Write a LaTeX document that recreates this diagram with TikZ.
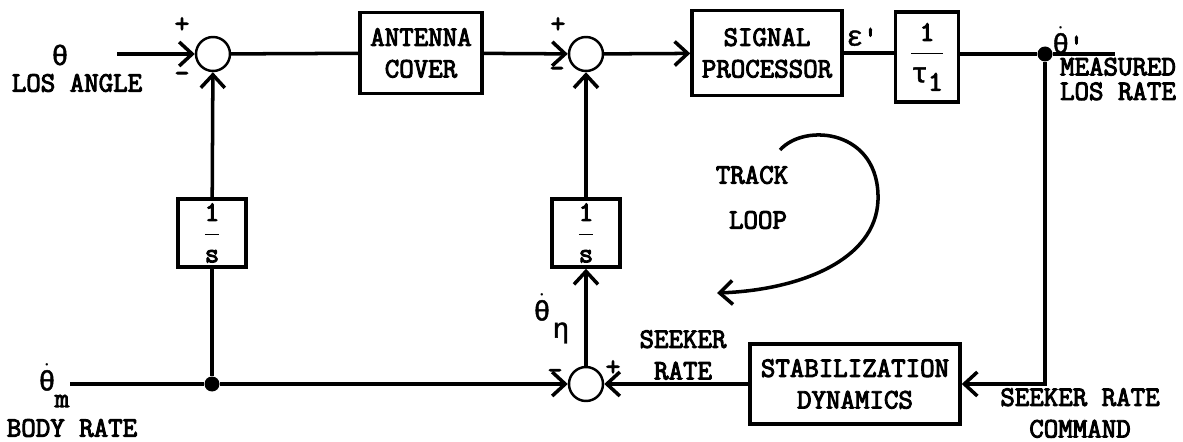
\documentclass[tikz,border=0pt]{standalone}
\usepackage{fontspec}
\setmonofont{Latin Modern Mono}[FakeBold=3.5]
\newfontfamily\grk{Liberation Mono}[FakeBold=1.5]
\usepackage{tikz}
\usetikzlibrary{positioning, arrows.meta}
\newcommand{\thetadot}{$\dot{\hbox{\grk θ}}$}

\begin{document}
\begin{tikzpicture}[
  x=0.02cm, y=-0.02cm,
  font=\fontsize{16}{18}\selectfont\ttfamily,
  block/.style={rectangle, draw, line width=2pt, align=center, inner sep=0pt},
  sumnode/.style={circle, draw, line width=1.4pt, minimum size=0.68cm, inner sep=0pt},
  junct/.style={circle, fill, minimum size=0.3cm, inner sep=0pt},
  sig/.style={line width=2pt},
  arrow/.style={sig, -{Straight Barb[length=2.6mm, width=4.8mm, line width=2pt]}},
  lbl/.style={align=center, inner sep=0pt}
]
\useasboundingbox (0,0) rectangle (1183,442);
% forward path
\coordinate (thetain) at (117,54);
\node[sumnode] (sum1) at (213,54) {};
\node[block, minimum width=2.44cm, minimum height=1.62cm] (antenna) at (421,53) {ANTENNA\\COVER};
\node[sumnode] (sum2) at (586,54) {};
\node[block, minimum width=3.0cm, minimum height=1.7cm] (sigproc) at (767,53) {SIGNAL\\PROCESSOR};
\node[block, minimum width=1.26cm, minimum height=1.8cm] (gain) at (927,57) {$\displaystyle\frac{\hbox{1}}{\hbox{\grk τ\raisebox{-0.3em}{\ttfamily 1}}}$};
\node[junct] (jtop) at (1045,54) {};
\coordinate (outend) at (1115,54);
% integrators and lower path
\node[block, minimum size=1.36cm] (int1) at (212,233) {$\displaystyle\frac{\hbox{1}}{\hbox{s}}$};
\node[block, minimum size=1.36cm] (int2) at (586,233) {$\displaystyle\frac{\hbox{1}}{\hbox{s}}$};
\coordinate (bodyin) at (70,384);
\node[junct] (jbot) at (212,384) {};
\node[sumnode] (sum3) at (586,384) {};
\node[block, minimum width=4.2cm, minimum height=1.6cm] (stab) at (855,384) {STABILIZATION\\DYNAMICS};
\coordinate (corner) at (1045,384);

% labels
\node[lbl] (thetalbl) at (60,55) {\grk θ};
\node[lbl] (losangle) at (77,83) {LOS ANGLE};
\node[lbl] (p1) at (182,25) {+};
\node[lbl] (m1) at (182,77) {-};
\node[lbl] (p2) at (558,25) {+};
\node[lbl] (m2) at (557,72) {-};
\node[lbl] (m3) at (555,374) {-};
\node[lbl] (p3) at (613,368) {+};
\node[lbl] (eps) at (862,37) {{\grk ε}'};
\node[lbl] (rateout) at (1068,40) {\thetadot'};
\node[lbl] (measured) at (1118,79) {MEASURED\\[-4pt]LOS RATE};
\node[lbl] (thetaeta) at (542,307) {\thetadot};
\node[lbl] (etasub) at (561,333) {\grk η};
\node[lbl] (seekrate) at (683,355) {SEEKER\\RATE};
\node[lbl] (seekcmd) at (1080,413) {SEEKER RATE\\COMMAND};
\node[lbl] (thetam) at (47,377) {\thetadot};
\node[lbl] (msub) at (62,401) {m};
\node[lbl] (bodyrate) at (72,428) {BODY RATE};
\node[lbl] (track) at (752,175) {TRACK};
\node[lbl] (loop) at (758,220) {LOOP};

% connectors
\draw[arrow] (thetain) -- (sum1);
\draw[sig] (sum1) -- (antenna);
\draw[arrow] (antenna) -- (sum2);
\draw[arrow] (sum2) -- (sigproc);
\draw[sig] (sigproc.east) -- (sigproc.east -| gain.west);
\draw[sig] (jtop -| gain.east) -- (jtop) -- (outend);
\draw[arrow] (jtop) -- (corner) -- (stab.east);
\draw[arrow] (stab) -- (sum3);
\draw[arrow] (sum3) -- (int2);
\draw[arrow] (int2) -- (sum2);
\draw[sig] (bodyin) -- (jbot);
\draw[arrow] (jbot) -- (sum3);
\draw[sig] (jbot) -- (int1);
\draw[arrow] (int1) -- (sum1);

% track loop arrow
\coordinate (loopstart) at (780,150);
\coordinate (loopend) at (717,293);
\draw[arrow] (loopstart) .. controls (805,122) and (880,130) .. (878,200)
  .. controls (876,260) and (800,290) .. (loopend);
\end{tikzpicture}
\end{document}
